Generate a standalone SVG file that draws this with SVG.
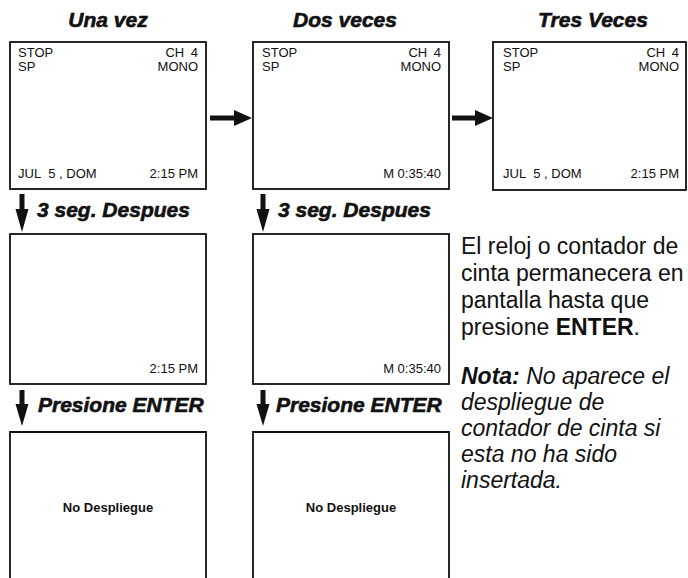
<svg xmlns="http://www.w3.org/2000/svg" width="688" height="578" viewBox="0 0 688 578">
<style>
.box{fill:#fff;stroke:#111;stroke-width:1.8}
.open{fill:none;stroke:#111;stroke-width:1.8}
.osd{font-family:"Liberation Sans",Arial,sans-serif;font-size:13px;fill:#111}
.osdb{font-family:"Liberation Sans",Arial,sans-serif;font-size:13px;font-weight:bold;fill:#111}
.hdr{font-family:"Liberation Sans",Arial,sans-serif;font-size:21px;font-weight:bold;font-style:italic;fill:#111;stroke:#111;stroke-width:0.6}
.para{font-family:"Liberation Sans",Arial,sans-serif;font-size:23px;fill:#111}
.arrow{fill:#111}
</style>
<g id="titles">
<text class="hdr" x="108" y="27" text-anchor="middle">Una vez</text>
<text class="hdr" x="345" y="27" text-anchor="middle">Dos veces</text>
<text class="hdr" x="593" y="27" text-anchor="middle">Tres Veces</text>
</g>
<g id="screen-una-vez">
<rect class="box" x="10" y="42" width="196" height="147"/>
<text class="osd" x="18" y="57">STOP</text>
<text class="osd" x="18" y="71">SP</text>
<text class="osd" x="198" y="57" text-anchor="end">CH <tspan dx="3">4</tspan></text>
<text class="osd" x="198" y="71" text-anchor="end">MONO</text>
<text class="osd" x="18" y="178">JUL <tspan dx="4">5 , DOM</tspan></text>
<text class="osd" x="198" y="178" text-anchor="end">2:15 PM</text>
</g>
<g id="screen-dos-veces">
<rect class="box" x="253" y="42" width="196" height="147"/>
<text class="osd" x="262" y="57">STOP</text>
<text class="osd" x="262" y="71">SP</text>
<text class="osd" x="441" y="57" text-anchor="end">CH <tspan dx="3">4</tspan></text>
<text class="osd" x="441" y="71" text-anchor="end">MONO</text>
<text class="osd" x="441" y="178" text-anchor="end">M 0:35:40</text>
</g>
<g id="screen-tres-veces">
<rect class="box" x="493" y="42" width="193" height="148"/>
<text class="osd" x="503" y="57">STOP</text>
<text class="osd" x="503" y="71">SP</text>
<text class="osd" x="679" y="57" text-anchor="end">CH <tspan dx="3">4</tspan></text>
<text class="osd" x="679" y="71" text-anchor="end">MONO</text>
<text class="osd" x="503" y="178">JUL <tspan dx="4">5 , DOM</tspan></text>
<text class="osd" x="679" y="178" text-anchor="end">2:15 PM</text>
</g>
<g id="screen-reloj">
<rect class="box" x="10" y="234" width="196" height="150"/>
<text class="osd" x="198" y="373" text-anchor="end">2:15 PM</text>
</g>
<g id="screen-contador">
<rect class="box" x="253" y="234" width="196" height="150"/>
<text class="osd" x="441" y="373" text-anchor="end">M 0:35:40</text>
</g>
<g id="screen-no-despliegue-1">
<path class="open" d="M10,580 V432 H206 V580"/>
<text class="osdb" x="108" y="512" text-anchor="middle">No Despliegue</text>
</g>
<g id="screen-no-despliegue-2">
<path class="open" d="M253,580 V432 H449 V580"/>
<text class="osdb" x="351" y="512" text-anchor="middle">No Despliegue</text>
</g>
<g id="connectors">
<path class="arrow" d="M210,115.5 H234 V110 L252,118 L234,126 V120.5 H210 Z"/>
<path class="arrow" d="M452,115.5 H475 V110 L493,118 L475,126 V120.5 H452 Z"/>
<path class="arrow" d="M19.5,194 H24.5 V209 H28.5 L22,232 L15.5,209 H19.5 Z"/>
<path class="arrow" d="M260.5,194 H265.5 V209 H269.5 L263,232 L256.5,209 H260.5 Z"/>
<path class="arrow" d="M19.5,390 H24.5 V404 H28.5 L22,426 L15.5,404 H19.5 Z"/>
<path class="arrow" d="M260.5,390 H265.5 V404 H269.5 L263,426 L256.5,404 H260.5 Z"/>
<text class="hdr" x="37" y="217">3 seg. Despues</text>
<text class="hdr" x="278" y="217">3 seg. Despues</text>
<text class="hdr" x="38" y="412">Presione ENTER</text>
<text class="hdr" x="276" y="412">Presione ENTER</text>
</g>
<g id="note-text">
<text class="para" x="461" y="254">El reloj o contador de</text>
<text class="para" x="461" y="281">cinta permanecera en</text>
<text class="para" x="461" y="308">pantalla hasta que</text>
<text class="para" x="461" y="335">presione <tspan font-weight="bold">ENTER</tspan>.</text>
<text class="para" x="461" y="384" font-style="italic"><tspan font-weight="bold">Nota:</tspan> No aparece el</text>
<text class="para" x="461" y="410" font-style="italic">despliegue de</text>
<text class="para" x="461" y="436" font-style="italic">contador de cinta si</text>
<text class="para" x="461" y="462" font-style="italic">esta no ha sido</text>
<text class="para" x="461" y="488" font-style="italic">insertada.</text>
</g>
</svg>
